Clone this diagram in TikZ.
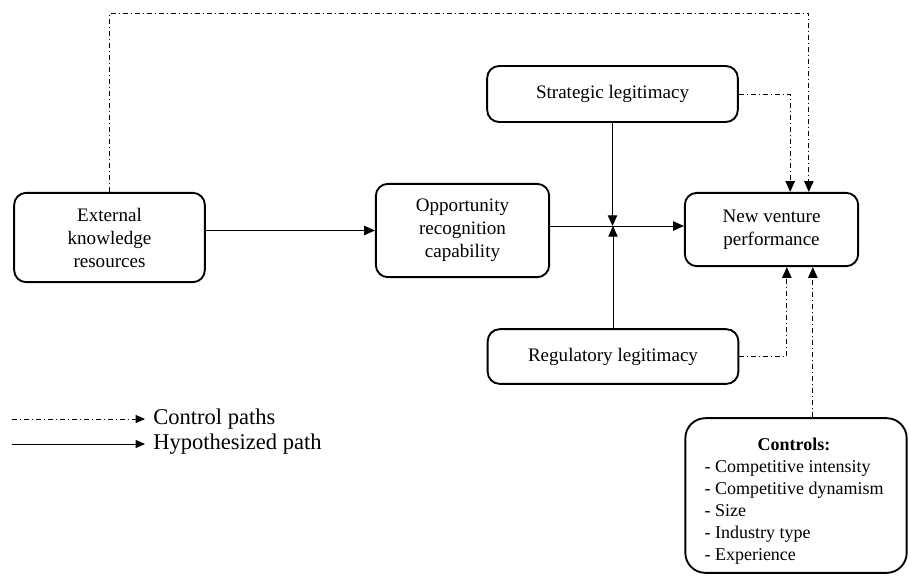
\documentclass[tikz,border=0pt]{standalone}
\usepackage{fontspec}
\setmainfont{Liberation Serif}
\usetikzlibrary{arrows.meta}
\begin{document}
\begin{tikzpicture}[x=0.75pt, y=-0.75pt,
  box/.style={draw, line width=1.4pt, rounded corners=9pt, align=center, font=\fontsize{14.3}{17.25}\selectfont},
  hyp/.style={line width=0.7pt, -{Triangle[length=8pt,width=7pt]}},
  ctrl/.style={line width=0.7pt, dash pattern=on 3.75pt off 2.25pt on 0.75pt off 2.25pt, -{Triangle[length=8pt,width=7pt]}},
  legtext/.style={anchor=west, font=\fontsize{16.9}{20}\selectfont, inner sep=6pt}]
\useasboundingbox (0,0) rectangle (909,583);
% boxes
\node[box, minimum width=143pt, minimum height=67pt] (ext) at (109.5,237.5) {External\\knowledge\\resources};
\node[box, minimum width=130pt, minimum height=70pt] (orc) at (462.5,230.5) {Opportunity\\recognition\\capability};
\node[box, minimum width=188pt, minimum height=42pt] (sl) at (612.5,94) {Strategic legitimacy};
\node[box, minimum width=188pt, minimum height=41pt] (rl) at (613,356.5) {Regulatory legitimacy};
\node[box, minimum width=130pt, minimum height=55pt] (nvp) at (771.5,229.5) {New venture\\performance};
\node[box, rounded corners=15pt, minimum width=166pt, minimum height=116pt] (ctl) at (796,495.5) {};
\node[font=\fontsize{13.5}{16.5}\selectfont, inner sep=0pt] (ctltext) at (794,501)
  {\begin{tabular}{@{}l@{}}\multicolumn{1}{@{}c@{}}{\textbf{Controls:}}\\- Competitive intensity\\- Competitive dynamism\\- Size\\- Industry type\\- Experience\end{tabular}};
% helper points
\coordinate (jn) at (613,226);
\coordinate (top) at (0,13);
\coordinate (nvpa) at ([xshift=28pt]nvp.north);
\coordinate (nvpb) at ([xshift=14pt]nvp.north);
\coordinate (nvpc) at ([xshift=11.5pt]nvp.south);
\coordinate (nvpd) at ([xshift=31pt]nvp.south);
% hypothesized paths
\draw[hyp] (ext.east |- orc.west) -- (orc.west);
\draw[hyp] (orc.east |- jn) -- (nvp.west |- jn);
\draw[hyp] (sl.south) -- (sl.south |- jn);
\draw[hyp] (rl.north) -- (rl.north |- jn);
% control paths
\draw[ctrl] (ext.north) |- (top -| nvpa) -- (nvpa);
\draw[ctrl] (sl.east) -| (nvpb);
\draw[ctrl] (rl.east) -| (nvpc);
\draw[ctrl] (nvpd |- ctl.north) -- (nvpd);
% legend
\node[legtext] (lc) at (145,419) {Control paths};
\node[legtext] (lh) at (145,444) {Hypothesized path};
\coordinate (lcs) at (12,419);
\coordinate (lhs) at (12,444);
\draw[ctrl, -{Triangle[length=7pt,width=6pt]}] (lcs) -- (lc.west);
\draw[hyp, -{Triangle[length=7pt,width=6pt]}] (lhs) -- (lh.west);
\end{tikzpicture}
\end{document}
